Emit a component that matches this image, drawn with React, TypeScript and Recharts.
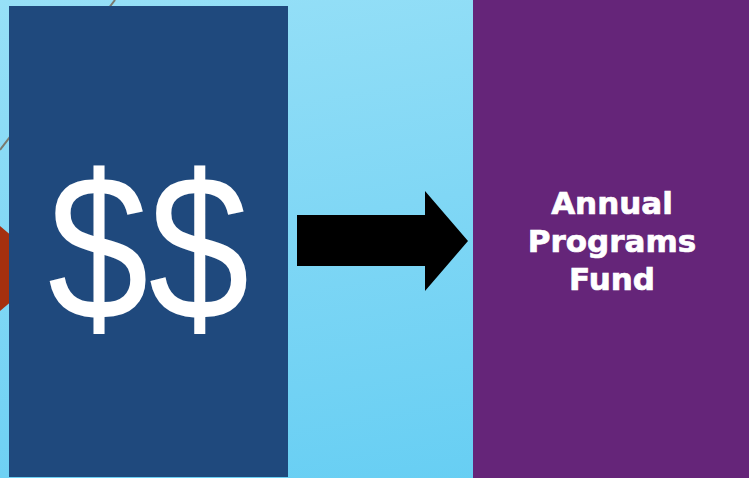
import React from "react";
import { ComposedChart, XAxis, YAxis, ReferenceArea } from "recharts";

// slide laid out on a 749 x 478 data grid (y grows downward)
const boxNames = ["source", "fund"];
const boxLeft = [9, 473];
const boxRight = [288, 749];
const boxTop = [6, 0];
const boxBottom = [477, 478];

const sourceLabel = "$$";
const fundLines = ["Annual", "Programs", "Fund"];

// arrow: shaft then head
const arrowStart = 297;
const arrowHeadStart = 425;
const arrowTip = 468;
const shaftTop = 215;
const shaftBottom = 266;
const headTop = 191;
const headBottom = 291;

// decorations peeking out behind the source box
const greyLine = { x1: 0, x2: 115, y1: 0, y2: 150 };
const redShape = { x1: 0, x2: 50, y1: 226, y2: 311 };

const W = 749;
const H = 478;

const SourceBox = (p: any) => {
  const cx = p.x + p.width / 2;
  return (
    <g>
      <rect x={p.x} y={p.y} width={p.width} height={p.height} fill="#1f497d" />
      <text
        x={cx}
        y={320}
        textAnchor="middle"
        fill="#ffffff"
        fontFamily="'Liberation Sans', Arial, sans-serif"
        fontSize={208}
        transform={`translate(${cx} 0) scale(0.87 1) translate(${-cx} 0)`}
      >
        {sourceLabel}
      </text>
    </g>
  );
};

const FundBox = (p: any) => (
  <g>
    <rect x={p.x} y={p.y} width={p.width} height={p.height} fill="#652579" />
    <text
      textAnchor="middle"
      fill="#ffffff"
      stroke="#ffffff"
      strokeWidth={0.7}
      fontFamily="'DejaVu Sans', Verdana, sans-serif"
      fontWeight="bold"
      fontSize={31}
    >
      {fundLines.map((t, i) => (
        <tspan key={t} x={p.x + p.width / 2 + 1} y={214 + i * 38}>
          {t}
        </tspan>
      ))}
    </text>
  </g>
);

const Arrow = (p: any) => {
  const { x, y, width, height } = p;
  const headX = x + ((arrowHeadStart - arrowStart) / (arrowTip - arrowStart)) * width;
  const sy1 = y + ((shaftTop - headTop) / (headBottom - headTop)) * height;
  const sy2 = y + ((shaftBottom - headTop) / (headBottom - headTop)) * height;
  const pts = [
    [x, sy1],
    [headX, sy1],
    [headX, y],
    [x + width, y + height / 2],
    [headX, y + height],
    [headX, sy2],
    [x, sy2],
  ]
    .map((q) => q.join(","))
    .join(" ");
  return <polygon points={pts} fill="#000000" />;
};

const RedShape = (p: any) => (
  <polygon
    points={`${p.x},${p.y} ${p.x + p.width},${p.y + p.height / 2} ${p.x},${p.y + p.height}`}
    fill="#a5300f"
  />
);

const GreyLine = (p: any) => (
  <line x1={p.x} y1={p.y + p.height} x2={p.x + p.width} y2={p.y} stroke="#7a7a6e" strokeWidth={2} />
);

export default function App() {
  return (
    <div
      style={{
        position: "absolute",
        left: 0,
        top: 0,
        width: W,
        height: H,
        background: "linear-gradient(170deg, #97e0f7 0%, #80d7f5 45%, #63cdf3 100%)",
      }}
    >
      <ComposedChart width={W} height={H} data={[]} margin={{ top: 0, right: 0, bottom: 0, left: 0 }}>
        <XAxis type="number" dataKey="x" domain={[0, W]} allowDataOverflow hide />
        <YAxis type="number" domain={[0, H]} reversed allowDataOverflow hide />
        <ReferenceArea
          x1={greyLine.x1}
          x2={greyLine.x2}
          y1={greyLine.y1}
          y2={greyLine.y2}
          shape={GreyLine}
          ifOverflow="visible"
        />
        <ReferenceArea
          x1={redShape.x1}
          x2={redShape.x2}
          y1={redShape.y1}
          y2={redShape.y2}
          shape={RedShape}
          ifOverflow="visible"
        />
        <ReferenceArea
          key={boxNames[0]}
          x1={boxLeft[0]}
          x2={boxRight[0]}
          y1={boxTop[0]}
          y2={boxBottom[0]}
          shape={SourceBox}
          ifOverflow="visible"
        />
        <ReferenceArea
          x1={arrowStart}
          x2={arrowTip}
          y1={headTop}
          y2={headBottom}
          shape={Arrow}
          ifOverflow="visible"
        />
        <ReferenceArea
          key={boxNames[1]}
          x1={boxLeft[1]}
          x2={boxRight[1]}
          y1={boxTop[1]}
          y2={boxBottom[1]}
          shape={FundBox}
          ifOverflow="visible"
        />
      </ComposedChart>
    </div>
  );
}
